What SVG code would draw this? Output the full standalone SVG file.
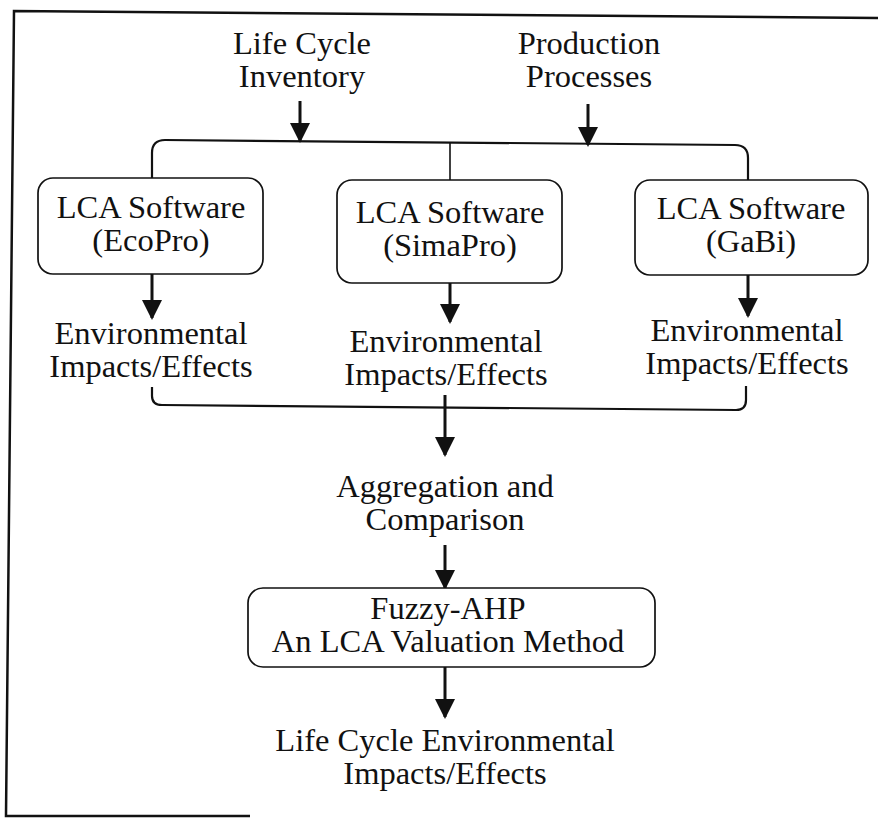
<svg xmlns="http://www.w3.org/2000/svg" width="878" height="818" viewBox="0 0 878 818">
<style>
text{font-family:"Liberation Serif","Times New Roman",serif;font-size:32.5px;fill:#111;text-anchor:middle}
.box{fill:#fff;stroke:#111;stroke-width:1.7}
.ln{fill:none;stroke:#111;stroke-width:2.2}
.thin{fill:none;stroke:#111;stroke-width:1.6}
.arr{fill:none;stroke:#111;stroke-width:3;marker-end:url(#ah)}
.frame{fill:none;stroke:#111;stroke-width:2.5}
</style>
<defs>
<marker id="ah" viewBox="0 0 20 20" markerWidth="20" markerHeight="20" refX="18" refY="10" orient="auto" markerUnits="userSpaceOnUse">
<path d="M0,0 L20,10 L0,20 z" fill="#111"/>
</marker>
</defs>
<rect width="878" height="818" fill="#fff"/>
<path class="frame" d="M878,18 L14,11 L6,816 L250,816"/>

<g id="connectors">
<path class="ln" d="M152,179 V153 Q152,140 165,140 L735,145 Q748,145 748,158 V180"/>
<line class="thin" x1="450" y1="142" x2="450" y2="180"/>
<line class="arr" x1="300" y1="101" x2="300" y2="141"/>
<line class="arr" x1="588" y1="104" x2="588" y2="145"/>
<line class="arr" x1="152" y1="274" x2="152" y2="318"/>
<line class="arr" x1="450" y1="283" x2="450" y2="322"/>
<line class="arr" x1="748" y1="275" x2="748" y2="316"/>
<path class="ln" d="M152,387 V396 Q152,405 162,405 L736,410 Q746,410 746,400 V386"/>
<line class="arr" x1="445" y1="395" x2="445" y2="455"/>
<line class="arr" x1="445" y1="545" x2="445" y2="588"/>
<line class="arr" x1="445" y1="667" x2="445" y2="717"/>
</g>

<g id="lci">
<text x="302" y="54">Life Cycle<tspan x="302" dy="33">Inventory</tspan></text>
</g>
<g id="pp">
<text x="589" y="54">Production<tspan x="589" dy="33">Processes</tspan></text>
</g>

<g id="ecopro">
<rect class="box" x="38" y="178" width="225" height="96" rx="15"/>
<text x="151" y="218">LCA Software<tspan x="151" dy="33">(EcoPro)</tspan></text>
</g>
<g id="simapro">
<rect class="box" x="337" y="180" width="225" height="103" rx="15"/>
<text x="450" y="223">LCA Software<tspan x="450" dy="33">(SimaPro)</tspan></text>
</g>
<g id="gabi">
<rect class="box" x="635" y="180" width="233" height="95" rx="15"/>
<text x="751" y="219">LCA Software<tspan x="751" dy="33">(GaBi)</tspan></text>
</g>

<g id="env1">
<text x="151" y="344">Environmental<tspan x="151" dy="33">Impacts/Effects</tspan></text>
</g>
<g id="env2">
<text x="446" y="352">Environmental<tspan x="446" dy="33">Impacts/Effects</tspan></text>
</g>
<g id="env3">
<text x="747" y="341">Environmental<tspan x="747" dy="33">Impacts/Effects</tspan></text>
</g>

<g id="agg">
<text x="445" y="497">Aggregation and<tspan x="445" dy="33">Comparison</tspan></text>
</g>

<g id="fuzzy">
<rect class="box" x="248" y="588" width="407" height="79" rx="15"/>
<text x="448" y="619">Fuzzy-AHP<tspan x="448" dy="33">An LCA Valuation Method</tspan></text>
</g>

<g id="result">
<text x="445" y="751">Life Cycle Environmental<tspan x="445" dy="33">Impacts/Effects</tspan></text>
</g>
</svg>
